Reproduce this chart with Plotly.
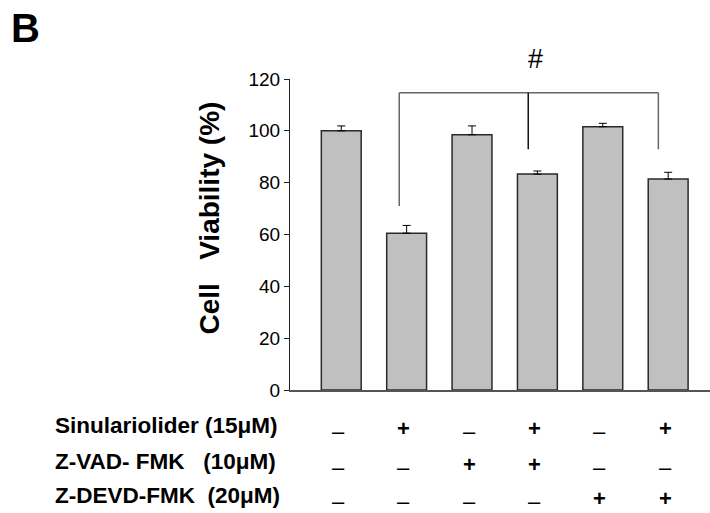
import plotly.graph_objects as go

# ---- data ----
groups = [0, 1, 2, 3, 4, 5]
viability = [100.0, 60.5, 98.5, 83.3, 101.6, 81.4]
viability_err = [1.9, 3.0, 3.4, 1.2, 1.3, 2.6]

row_labels = ["Sinulariolider (15\u03bcM)",
              "Z-VAD- FMK\u00a0\u00a0\u00a0(10\u03bcM)",
              "Z-DEVD-FMK\u00a0\u00a0(20\u03bcM)"]
sinulariolider = ["-", "+", "-", "+", "-", "+"]
zvad = ["-", "-", "+", "+", "-", "-"]
zdevd = ["-", "-", "-", "-", "+", "+"]
rows = [sinulariolider, zvad, zdevd]

y_ticks = [0, 20, 40, 60, 80, 100, 120]

# significance bracket (data units)
bracket_y = 114.7
bracket_legs_x = [0.887, 2.86, 4.85]
bracket_legs_end = [71.0, 92.9, 92.9]

W, H = 710, 513
L, R, T, B = 290, 0, 79, 123
PW, PH = W - L - R, H - T - B


def px_x(px):
    return (px - L) / PW


def px_y(py):
    return (H - B - py) / PH


FONT = "Liberation Sans, Arial, sans-serif"

fig = go.Figure()
fig.add_trace(go.Bar(
    x=groups, y=viability, width=0.61,
    marker=dict(color="#c0c0c0", line=dict(color="#2a2a2a", width=1.5)),
    error_y=dict(type="data", symmetric=False, array=viability_err,
                 arrayminus=[0] * len(viability_err),
                 color="black", thickness=1, width=4),
    showlegend=False,
))

shapes = []
shapes.append(dict(type="line", xref="x", yref="y",
                   x0=bracket_legs_x[0], x1=bracket_legs_x[-1],
                   y0=bracket_y, y1=bracket_y,
                   line=dict(color="#666666", width=1.5)))
for i, (lx, ly) in enumerate(zip(bracket_legs_x, bracket_legs_end)):
    shapes.append(dict(type="line", xref="x", yref="y",
                       x0=lx, x1=lx, y0=bracket_y, y1=ly,
                       line=dict(color="#111111" if i == 1 else "#666666", width=1.5)))

annotations = []


def ann(text, x, y, size, xref="paper", xanchor="center", **kw):
    d = dict(text=text, xref=xref, yref="paper", x=x, y=y, showarrow=False,
             xanchor=xanchor, yanchor="middle",
             font=dict(family=FONT, size=size, color="black"))
    d.update(kw)
    annotations.append(d)


ann("<b>B</b>", px_x(25), px_y(28), 40)
ann("#", px_x(535), px_y(58.5), 27)
ann("<b>Cell\u00a0\u00a0\u00a0Viability (%)</b>", px_x(209), px_y(218.5), 28, textangle=-90)

row_y = [425.5, 461.5, 495.0]
for lab, ry, vals in zip(row_labels, row_y, rows):
    ann("<b>" + lab + "</b>", px_x(53), px_y(ry), 22.5, xanchor="left")
    for g, v in zip(groups, vals):
        if v == "+":
            ann("<b>+</b>", g, px_y(ry + 3), 22, xref="x", xshift=-3)
        else:
            ann("\u2013", g, px_y(ry + 6), 22, xref="x", xshift=-3)

fig.update_layout(
    width=W, height=H,
    margin=dict(l=L, r=R, t=T, b=B, pad=0),
    paper_bgcolor="white", plot_bgcolor="white",
    shapes=shapes, annotations=annotations,
    font=dict(family=FONT, color="black"),
    xaxis=dict(range=[-0.784, 5.64], showline=True, linecolor="#555555", linewidth=1.5,
               showticklabels=False, ticks="", showgrid=False, zeroline=False),
    yaxis=dict(range=[0, 120], tickvals=y_ticks, showline=True, linecolor="#222222",
               linewidth=1.2, ticks="outside", ticklen=5, tickwidth=1, tickcolor="#222222",
               showgrid=False, zeroline=False,
               tickfont=dict(family=FONT, size=19, color="black")),
)

fig.write_html("out.html", config={"displayModeBar": False},
               post_script="document.body.style.margin='0';")
